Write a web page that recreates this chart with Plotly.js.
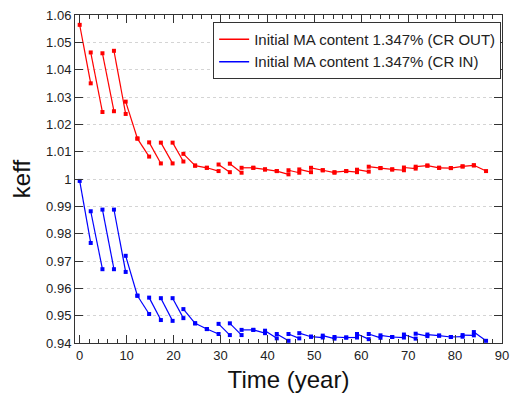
<!DOCTYPE html>
<html>
<head>
<meta charset="utf-8">
<script src="https://cdn.plot.ly/plotly-3.0.1.min.js"></script>
<style>html,body{margin:0;padding:0;background:#fff;}#chart{width:510px;height:396px;}</style>
</head>
<body>
<div id="chart"></div>
<script>
// Reload times (start of each cycle), years
var times = [0, 2.35, 4.85, 7.3, 9.8, 12.3, 14.8, 17.3, 19.8, 22.1, 24.6, 27.1, 29.6, 32.0, 34.5, 37.0, 39.5, 42.0, 44.5, 46.8, 49.3, 51.8, 54.3, 56.8, 59.1, 61.6, 64.1, 66.6, 69.1, 71.6, 74.1, 76.6, 79.1, 81.6, 84.0, 86.6];

// CR OUT: keff at beginning and end of each cycle
var outStart = [1.0564, 1.0463, 1.0460, 1.0469, 1.0283, 1.0148, 1.0134, 1.0133, 1.0133, 1.0092, 1.0049, 1.0041, 1.0053, 1.0056, 1.0041, 1.0041, 1.0035, 1.0029, 1.0032, 1.0035, 1.0041, 1.0032, 1.0025, 1.0029, 1.0034, 1.0045, 1.0040, 1.0035, 1.0042, 1.0045, 1.0049, 1.0041, 1.0040, 1.0046, 1.0050];
var outEnd   = [1.0350, 1.0245, 1.0248, 1.0238, 1.0148, 1.0082, 1.0057, 1.0057, 1.0064, 1.0049, 1.0041, 1.0029, 1.0025, 1.0023, 1.0041, 1.0035, 1.0029, 1.0017, 1.0023, 1.0025, 1.0032, 1.0023, 1.0029, 1.0025, 1.0027, 1.0040, 1.0035, 1.0032, 1.0038, 1.0049, 1.0041, 1.0040, 1.0046, 1.0050, 1.0029];

// CR IN
var inStart = [0.9993, 0.9882, 0.9888, 0.9888, 0.9719, 0.9573, 0.9566, 0.9564, 0.9564, 0.9524, 0.9472, 0.9451, 0.9470, 0.9472, 0.9448, 0.9448, 0.9445, 0.9433, 0.9433, 0.9436, 0.9423, 0.9427, 0.9422, 0.9420, 0.9433, 0.9433, 0.9428, 0.9422, 0.9431, 0.9434, 0.9431, 0.9427, 0.9422, 0.9429, 0.9440];
var inEnd   = [0.9766, 0.9670, 0.9670, 0.9660, 0.9573, 0.9506, 0.9484, 0.9481, 0.9491, 0.9472, 0.9451, 0.9433, 0.9429, 0.9429, 0.9448, 0.9436, 0.9417, 0.9408, 0.9417, 0.9423, 0.9420, 0.9416, 0.9420, 0.9420, 0.9414, 0.9419, 0.9422, 0.9420, 0.9416, 0.9425, 0.9427, 0.9422, 0.9423, 0.9428, 0.9408];

var seriesNames = ['Initial MA content 1.347% (CR OUT)', 'Initial MA content 1.347% (CR IN)'];
var seriesColors = ['#ff0000', '#0000ff'];

function buildSegments(starts, ends) {
  var xs = [], ys = [];
  for (var i = 0; i < starts.length; i++) {
    xs.push(times[i], times[i + 1], null);
    ys.push(starts[i], ends[i], null);
  }
  return {x: xs, y: ys};
}

var sOut = buildSegments(outStart, outEnd);
var sIn = buildSegments(inStart, inEnd);

function dataTrace(s, color) {
  return {
    x: s.x, y: s.y, type: 'scatter', mode: 'lines+markers',
    line: {color: color, width: 1.2},
    marker: {symbol: 'square', size: 4, color: color},
    connectgaps: false, showlegend: false, hoverinfo: 'skip'
  };
}
function legendTrace(name, color) {
  return {
    x: [null], y: [null], type: 'scatter', mode: 'lines', name: name,
    line: {color: color, width: 1.5}, showlegend: true
  };
}

var data = [
  dataTrace(sOut, seriesColors[0]),
  dataTrace(sIn, seriesColors[1]),
  legendTrace(seriesNames[0], seriesColors[0]),
  legendTrace(seriesNames[1], seriesColors[1]),
  {x: [null], y: [null], xaxis: 'x2', type: 'scatter', mode: 'lines', showlegend: false, hoverinfo: 'skip'}
];

var axisColor = '#333333';
var xRange = [-1, 90];
var layout = {
  width: 510, height: 396,
  margin: {l: 75, r: 8, t: 15, b: 53},
  paper_bgcolor: '#ffffff', plot_bgcolor: '#ffffff',
  font: {family: 'Liberation Sans, Arial, sans-serif', size: 13, color: '#222'},
  xaxis: {
    range: xRange, tick0: 0, dtick: 10,
    ticks: 'inside', ticklen: 8, tickcolor: axisColor, tickwidth: 1,
    showline: true, linecolor: axisColor, linewidth: 1, mirror: 'ticks',
    showgrid: false, zeroline: false,
    tickfont: {size: 13, color: '#222'},
    title: {text: 'Time (year)', font: {size: 24, color: '#111'}, standoff: 9},
    automargin: false
  },
  xaxis2: {
    overlaying: 'x', anchor: 'y', side: 'bottom',
    range: xRange, tick0: 0, dtick: 2,
    ticks: 'inside', ticklen: 4, tickcolor: axisColor, tickwidth: 1,
    showline: false, mirror: 'ticks', showticklabels: false,
    showgrid: false, zeroline: false, automargin: false
  },
  yaxis: {
    range: [0.94, 1.06], tick0: 0.94, dtick: 0.01,
    ticks: 'inside', ticklen: 8, tickcolor: axisColor, tickwidth: 1,
    showline: true, linecolor: axisColor, linewidth: 1, mirror: 'ticks',
    showgrid: true, gridcolor: '#d4d4d4', griddash: 'dot', gridwidth: 1,
    zeroline: false,
    tickfont: {size: 13, color: '#222'},
    title: {text: 'keff', font: {size: 24, color: '#111'}, standoff: 8},
    automargin: false
  },
  legend: {
    x: 0.998, y: 0.979, xanchor: 'right', yanchor: 'top',
    bgcolor: '#ffffff', bordercolor: '#333', borderwidth: 1,
    font: {size: 15, color: '#222'}, tracegroupgap: 0
  },
  showlegend: true
};

Plotly.newPlot('chart', data, layout, {staticPlot: true, displayModeBar: false});
</script>
</body>
</html>
